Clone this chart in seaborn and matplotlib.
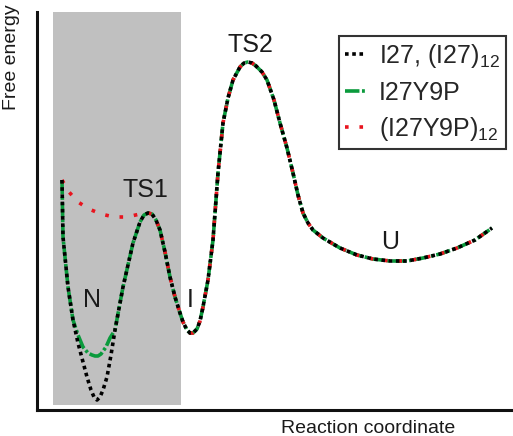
import numpy as np
import matplotlib
matplotlib.use("Agg")
import matplotlib.pyplot as plt
import seaborn as sns

# reaction coordinate / free energy (arbitrary units)
shared_x = [115, 119, 123, 128, 133, 138, 143, 146, 150, 153, 156, 160, 163, 166, 171, 176,
            181, 186, 191, 196, 203, 207, 211, 215, 219, 225, 230, 237, 243, 250, 256, 261,
            266, 271, 276, 286, 303, 320, 336, 353, 370, 386, 403, 420, 438, 455]
shared_e = [196, 190, 180, 158, 133, 113, 97, 88, 80, 77, 77, 81, 89, 103, 130, 170,
            237, 287, 312, 330, 343, 347, 348, 347, 344, 338, 330, 310, 287, 262, 237, 215,
            197, 187, 180, 172, 162, 155, 151, 149, 149, 152, 156, 162, 170, 182]

wt_x = [25, 26, 31, 36, 41, 46, 50, 54, 57, 60, 63, 66, 70, 74, 78, 86, 96, 103, 107, 111]
wt_e = [230, 173, 123, 90, 67, 48, 33, 20, 13, 10, 13, 20, 33, 55, 80, 123, 167, 188, 195, 197]

y9p_x = [25, 26, 31, 36, 41, 46, 51, 55, 58, 61, 64, 69, 73, 78, 86, 96, 103, 107, 111]
y9p_e = [230, 173, 123, 90, 75, 63, 57, 55, 54, 54, 56, 63, 72, 80, 123, 167, 188, 195, 197]

y9p12_x = [25, 32, 41, 52, 64, 77, 90, 103, 107, 111]
y9p12_e = [230, 218, 208, 201, 196, 193, 193, 196, 197, 197]

labels = ["I27, (I27)$_{12}$", "I27Y9P", "(I27Y9P)$_{12}$"]
states = ["N", "TS1", "I", "TS2", "U"]
state_x = [55, 108, 153, 213, 353]
state_e = [110, 220, 110, 365, 168]

sns.set_style("white")
plt.rcParams['font.family'] = ['Liberation Sans', 'DejaVu Sans']
plt.rcParams['mathtext.fontset'] = 'custom'
plt.rcParams['mathtext.rm'] = 'Liberation Sans'
plt.rcParams['mathtext.it'] = 'Liberation Sans'

fig = plt.figure(figsize=(5.13, 4.36), dpi=100)
ax = fig.add_axes([37 / 513, 26 / 436, 476 / 513, 398 / 436])
ax.set_xlim(0, 476)
ax.set_ylim(0, 398)

# shaded native-state region
ax.axvspan(16, 144, ymin=5 / 398, ymax=1, color="#c0c0c0", lw=0, zorder=0)

xs_black = np.concatenate([wt_x, shared_x])
es_black = np.concatenate([wt_e, shared_e])
xs_green = np.concatenate([y9p_x, shared_x])
es_green = np.concatenate([y9p_e, shared_e])
xs_red = np.concatenate([y9p12_x, shared_x])
es_red = np.concatenate([y9p12_e, shared_e])

sns.lineplot(x=xs_green, y=es_green, sort=False, ax=ax, color="#0a9a3c", lw=2.6,
             linestyle=(0, (4, 0.7, 0.8, 0.7)), label=labels[1], zorder=2)
sns.lineplot(x=xs_red, y=es_red, sort=False, ax=ax, color="#e8141e", lw=2.6,
             linestyle=(0, (1, 3)), label=labels[2], zorder=3)
sns.lineplot(x=xs_black, y=es_black, sort=False, ax=ax, color="black", lw=2.6,
             linestyle=(0, (1, 1)), label=labels[0], zorder=4)

for s, x, e in zip(states, state_x, state_e):
    ax.text(x, e, s, fontsize=18, ha="center", va="center", color="#1a1a1a")

h, l = ax.get_legend_handles_labels()
order = [2, 0, 1]
leg = ax.legend([h[i] for i in order], [l[i] for i in order], loc="upper right",
                bbox_to_anchor=(0.985, 0.94), fontsize=18, frameon=True, fancybox=False,
                handlelength=0.8, handletextpad=0.55, borderpad=0.25, labelspacing=0.42,
                borderaxespad=0)
leg.get_frame().set_edgecolor("black")
leg.get_frame().set_linewidth(1.5)

for side in ["top", "right"]:
    ax.spines[side].set_visible(False)
for side in ["left", "bottom"]:
    ax.spines[side].set_linewidth(2.2)
    ax.spines[side].set_color("#111111")
ax.set_xticks([])
ax.set_yticks([])

fig.text(12 / 513, 1 - 57 / 436, "Free energy", rotation=90, fontsize=14,
         ha="center", va="center", color="#1a1a1a")
fig.text(368 / 513, 1 - 428 / 436, "Reaction coordinate", fontsize=14,
         ha="center", va="center", color="#1a1a1a")

fig.savefig("out.png", dpi=100)
